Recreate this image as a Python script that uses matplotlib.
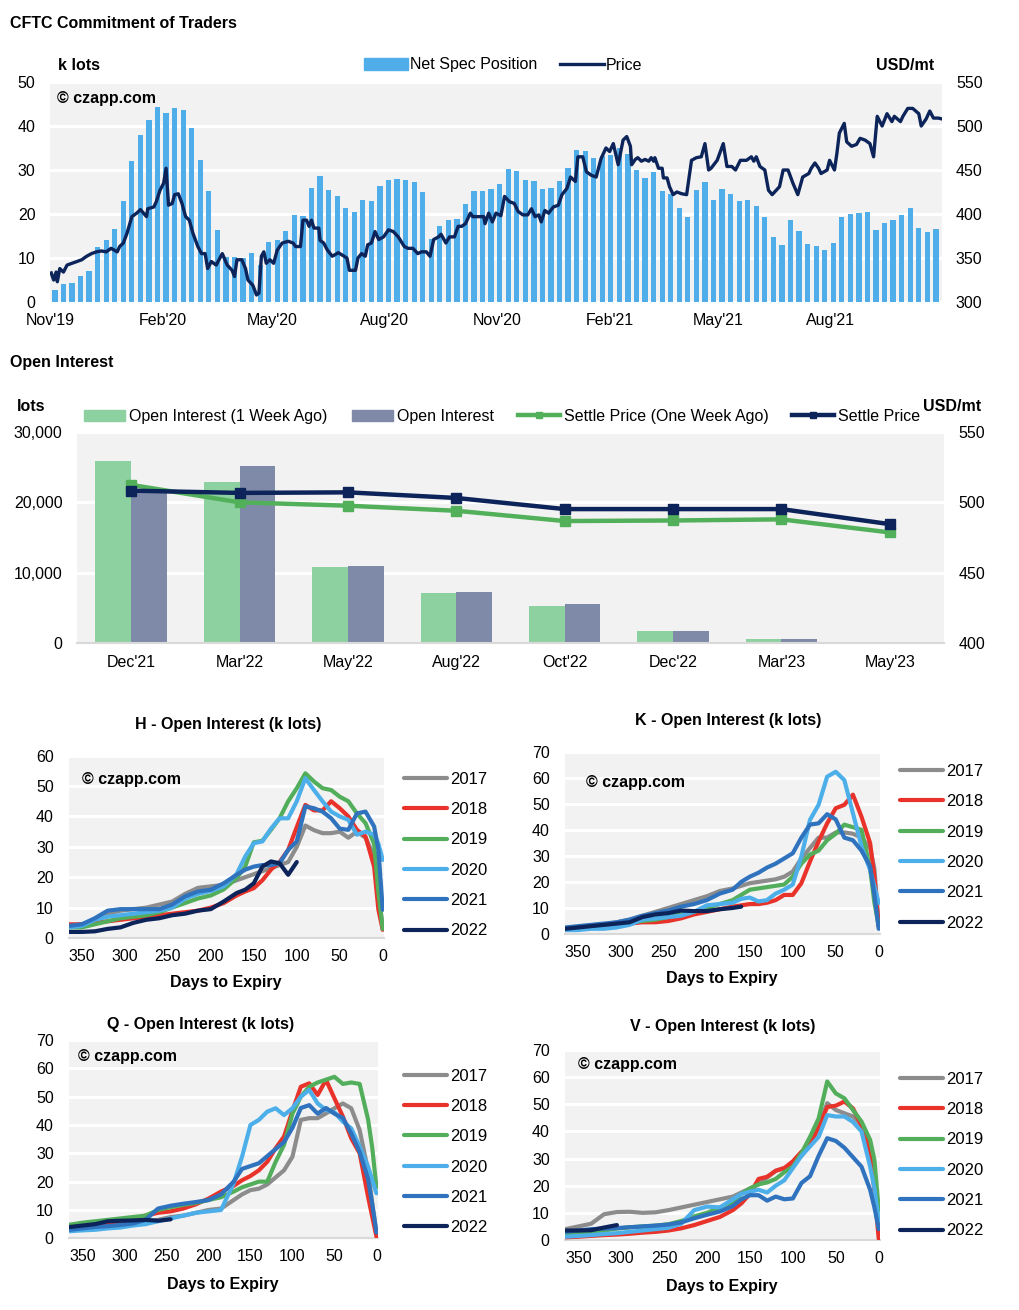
import numpy as np
import pandas as pd
import matplotlib
matplotlib.use("Agg")
import matplotlib.pyplot as plt
import matplotlib.dates as mdates
from matplotlib.ticker import FuncFormatter
from matplotlib.patches import Patch
from matplotlib.lines import Line2D

plt.rcParams['font.family'] = ['Liberation Sans', 'DejaVu Sans']

# ---------------- data: CFTC COT ----------------
cot_start = "2019-11-05"
net_spec = [2.7, 4.1, 4.4, 5.9, 7.0, 12.6, 14.1, 16.6, 23.0, 32.0, 38.0, 41.4, 44.3, 43.0, 44.1, 43.6,
            39.5, 32.3, 25.2, 16.4, 10.3, 10.3, 9.9, 11.1, 8.4, 13.6, 14.1, 16.1, 19.8, 19.5, 25.9, 28.6,
            25.5, 24.1,
            21.4, 20.5, 23.2, 23.0, 26.4, 27.7, 28.0, 27.7, 27.3, 25.0, 14.3, 17.3, 18.6, 18.9, 22.3, 25.2,
            25.2, 25.7, 26.8, 30.2, 29.8, 27.7, 27.5, 25.7, 25.9, 27.5, 30.5, 34.5, 34.3, 32.7, 33.2, 33.4,
            35.0, 33.6,
            30.0, 28.2, 29.5, 25.2, 24.5, 21.4, 19.3, 25.5, 27.3, 23.2, 25.7, 24.5, 22.9, 23.2, 21.8, 19.3,
            14.8, 13.0, 18.6, 16.1, 13.2, 12.7, 11.8, 13.4, 19.3, 20.0, 20.2, 20.5, 16.4, 17.9, 18.6, 19.8,
            21.4, 16.9, 15.8, 16.7]

price_start = "2019-11-01"
price_day = [1, 3, 5, 6, 8, 11, 14, 18, 22, 26, 30, 34, 38, 42, 46, 50, 55, 57, 60, 63, 67, 71, 74, 79,
             80, 85, 87, 90, 93, 95, 97, 100, 102, 105, 108, 111, 114, 117, 121, 124, 127, 129, 132, 136,
             141, 145, 149, 151, 153, 157, 160, 162, 166, 169, 171, 173, 175, 177, 180, 183, 186, 190,
             195, 199, 201, 205, 207, 210, 212, 214, 216, 220, 221, 224, 227, 231,
             236, 243, 245, 250, 252, 255, 258, 260, 263, 266, 269, 273, 277, 281, 285, 290, 293, 297,
             301, 304, 308, 311, 314, 318, 320, 324, 327, 331, 334, 337, 340, 344, 346, 350, 355, 356,
             359, 362, 365, 369, 372, 376, 380, 383, 387, 391, 394, 397, 400, 402, 405, 408, 412, 416,
             419, 423, 426, 430, 432, 436, 439, 443, 447, 451, 455, 458, 461, 465, 469, 472, 475,
             476, 479, 481, 484, 487, 490, 492, 494, 495, 498, 501, 502, 505, 507, 510, 513, 517, 521,
             525, 529, 533, 536, 539, 541, 546, 551, 554, 558, 561, 565, 570, 574, 576, 578, 581, 585,
             588, 591, 593, 597, 600, 604, 608, 612, 616, 621, 623, 626, 629, 631, 636, 638, 642, 644,
             646, 650, 652, 656, 660, 663, 667, 671, 674, 677, 681, 685, 689, 691, 696, 698, 702, 706,
             711, 713, 717, 720, 723, 727, 730]
price = [333, 325, 334, 323, 338, 334, 342, 344, 346, 348, 352, 355, 357, 358, 357, 361, 357, 363, 367,
         378, 397, 401, 405, 397, 406, 408, 414, 427, 435, 452, 410, 412, 422, 423, 412, 397, 393, 378,
         363, 355, 355, 338, 346, 342, 355, 342, 336, 329, 348, 348, 338, 325, 319, 308, 310, 352, 357,
         344, 348, 344, 359, 367, 369, 367, 363, 363, 393, 393, 386, 393, 384, 384, 370, 367, 359, 352,
         356, 350, 336, 336, 350, 355, 352, 365, 367, 380, 371, 374, 382, 380, 374, 363, 361, 361, 355,
         357, 357, 352, 371, 374, 377, 367, 374, 374, 386, 386, 389, 401, 397, 397, 397, 389, 401, 391,
         401, 398, 420, 414, 412, 403, 399, 399, 406, 397, 399, 391, 404, 401, 408, 410, 422, 429, 442,
         437, 465, 465, 448, 444, 442, 463, 475, 471, 480, 456, 484, 488, 477,
         456, 462, 464, 460, 462, 460, 464, 460, 464, 452, 452, 441, 441, 431, 422, 425, 423, 422, 461,
         464, 465, 480, 450, 452, 461, 480, 454, 454, 450, 461, 461, 465, 460, 465, 454, 450, 427, 422,
         425, 431, 450, 450, 435, 422, 442, 446, 452, 458, 452, 446, 450, 461, 450, 469, 492, 503, 482,
         477, 479, 486, 484, 480, 465, 511, 500, 514, 505, 511, 505, 511, 520, 520, 514, 500, 508, 517,
         509, 509, 508]

# ---------------- data: open interest by contract ----------------
contracts = ["Dec'21", "Mar'22", "May'22", "Aug'22", "Oct'22", "Dec'22", "Mar'23", "May'23"]
oi_week_ago = [25900, 22900, 10760, 7050, 5190, 1760, 620, 190]
oi_now = [21800, 25200, 10900, 7190, 5480, 1760, 620, 190]
settle_week_ago = [512.4, 500.0, 497.6, 494.0, 486.7, 487.1, 487.9, 478.6]
settle_now = [508.3, 506.7, 507.1, 503.1, 495.2, 495.2, 495.2, 484.5]

# ---------------- data: open interest vs days to expiry (k lots) ----------------
days = [365, 350, 335, 320, 305, 290, 275, 260, 245, 230, 215, 200, 185, 170, 160, 150,
        140, 130, 120, 110, 100, 90, 80, 70, 60, 50, 40, 30, 20, 10, 5, 0]
years = ["2017", "2018", "2019", "2020", "2021", "2022"]

h_oi = {
    "2017": [4, 4.5, 6, 8, 9, 9.5, 10, 11, 12, 14.5, 16.5, 17, 17.5, 19, 20, 21,
             22, 23, 24, 25, 30, 37, 35.5, 34.5, 34.5, 35, 33, 35, 33, 27, 15, 3],
    "2018": [4.5, 4.5, 5, 5.5, 6, 6.5, 7, 7.5, 8, 8.5, 9, 10, 11.5, 14, 15.3, 16.4,
             19, 22.5, 25, 29, 36.5, 43.8, 42, 42, 45, 42.7, 40, 35.6, 33.4, 23.5, 9.3, 2.7],
    "2019": [3.5, 3.5, 4.5, 5.5, 6.5, 7, 7.5, 8.5, 10, 11.5, 13, 14, 16, 19.7, 23.5, 31.5,
             32, 35.6, 39.4, 45, 49.3, 54.2, 51.5, 49.3, 48.7, 46.5, 45, 41, 37.8, 31, 15, 3],
    "2020": [3.5, 4, 6, 7, 7.5, 8, 8.5, 9, 10, 13, 14.5, 15.5, 17, 21, 26.8, 31.2,
             31.8, 36, 39.4, 39.4, 45, 52.6, 48.7, 45, 41.6, 40, 38.9, 34, 35, 34, 31, 25.7],
    "2021": [4, 4.5, 6.5, 9, 9.5, 9.5, 9.5, 9.5, 11, 13.7, 15.3, 15.9, 18, 20.8, 22.5, 23.5,
             24, 24, 24.6, 29, 31.8, 43.3, 42.7, 41.6, 39.4, 36, 35.6, 41, 41.6, 36.7, 29, 9.3],
    "2022": [2, 2, 2.2, 3, 3.5, 5, 6, 6.5, 7.5, 8, 9, 9.5, 12, 14.8, 15.9, 18,
             23.5, 25.2, 24.6, 20.8, 25],
}
k_oi = {
    "2017": [2, 2.5, 3, 3.5, 4.5, 5.5, 7, 8.5, 10, 11.5, 13, 14.5, 16.5, 17.5, 18.5, 19.5,
             20, 20.5, 21, 22, 24, 29, 33, 37, 37, 39, 39, 38.5, 37, 33, 25, 3],
    "2018": [1.5, 2, 2.5, 3, 3.5, 4, 4.5, 4.5, 5, 6, 7.5, 8.5, 9.5, 10.5, 11, 11.5,
             11.5, 12, 13, 15, 15, 19.5, 27.8, 35.5, 42.5, 48.3, 49.6, 53.5, 45, 34.9, 22, 3],
    "2019": [2, 2.5, 3, 3.5, 4, 4.5, 5, 5.5, 6.5, 7.5, 8.5, 10, 11.5, 13, 15, 17,
             17.5, 18, 18.5, 19, 22, 27, 30.5, 32, 36, 38.5, 42, 41, 40, 25, 12, 3],
    "2020": [1.5, 1.5, 2, 2, 2.5, 3.5, 5.5, 6, 6.5, 7, 8.5, 11, 11.5, 12, 13.5, 14,
             12.5, 13, 15.5, 17, 19, 29.8, 43.8, 49.6, 60.4, 62.3, 59.1, 46.4, 33.6, 24.6, 18.3, 11.9],
    "2021": [2.5, 3, 3.5, 4, 4.5, 5.5, 7, 8, 9, 10.5, 11.5, 13, 15.5, 17, 20, 22,
             23.5, 25.5, 27, 29, 31, 37, 42, 42.5, 46, 44, 37, 36, 32, 26, 15, 2],
    "2022": [2, 2.5, 3, 3.5, 4, 4.5, 6.5, 7.5, 8, 9, 8.8, 8.8, 9.5, 10, 10.5],
}
q_oi = {
    "2017": [3.5, 4, 4.5, 4.8, 5, 5.5, 6, 6.5, 7.5, 8, 9, 10, 10.5, 13.5, 15.5, 17,
             17.5, 19, 21.5, 24, 28.8, 41.8, 42.4, 42.4, 44.1, 45.9, 47.6, 45.9, 38.2, 24, 12.4, 1.8],
    "2018": [4.5, 5, 5.5, 5.5, 5.8, 6.5, 8, 9, 9.5, 10.5, 12, 14, 16.5, 18.5, 20.5, 22,
             24, 27, 31.8, 35.9, 45, 53.5, 54.7, 50.6, 55.9, 49.4, 43, 35.3, 30, 14.7, 7.6, 0.6],
    "2019": [4.8, 5.5, 6, 6.5, 7, 7.5, 8, 10, 11, 11.8, 12.5, 13.5, 14.5, 16.5, 18, 19,
             20, 20, 27, 33, 44, 50, 53.5, 55, 56, 57, 54.5, 55, 54.5, 42, 32, 18],
    "2020": [2.5, 2.8, 3, 3.5, 3.8, 4.5, 5, 6, 7, 8, 9, 9.5, 10, 19.4, 28.8, 40,
             41.8, 44.7, 45.9, 43.5, 45.9, 50, 52.4, 47.6, 45.3, 44.5, 41.2, 38.8, 32.4, 25.3, 20.6, 15.9],
    "2021": [3, 3.5, 4, 4.3, 4.7, 5.2, 6.5, 10.5, 11.5, 12.2, 12.8, 13.5, 15.5, 20, 24.5, 25.5,
             26.5, 29, 31.5, 34, 39, 46, 47, 44, 46, 44, 42.5, 37, 30.5, 21, 12, 2],
    "2022": [4, 4.5, 5, 6, 6.2, 6.3, 6.5, 6.2, 6.7],
}
v_oi = {
    "2017": [4, 5, 6, 9.5, 10.3, 10.4, 10, 10.2, 11, 12, 13, 14, 15, 16, 17.5, 19,
             20.5, 23, 25.5, 26.5, 27.5, 31, 35.5, 42, 50.4, 47.9, 46.7, 45.5, 42.4, 33.2, 23.3, 3.7],
    "2018": [1, 1.2, 1.5, 1.8, 2, 2.3, 2.7, 3, 3.5, 4.3, 5.5, 7, 8.5, 11, 13.5, 17,
             22.5, 23.3, 25.5, 26.5, 29, 32.5, 35, 41.5, 49, 49.5, 51, 48.5, 42, 33, 18, 0.5],
    "2019": [2, 2.5, 3, 3.5, 4.2, 4.7, 5, 5.3, 5.8, 7, 8.7, 10, 12, 14, 17, 19,
             20.5, 21.2, 22.5, 25, 27, 32, 38, 44.8, 58.4, 54, 52.2, 47.9, 43.6, 36.9, 29.5, 11],
    "2020": [1.2, 1.5, 1.8, 2.2, 2.5, 3, 3.5, 4, 4.5, 6, 11, 12.3, 12, 15, 17, 17.8,
             18.5, 17.5, 20, 22, 26.5, 31, 34.5, 38, 46, 45.5, 45.5, 43.5, 40, 27, 19, 7],
    "2021": [3, 3.5, 4, 4.2, 4.4, 4.7, 5, 5.3, 5.7, 6.5, 8, 9.3, 10.5, 12.5, 15, 16.5,
             16.5, 14.5, 16, 15, 15.3, 21, 23.5, 31, 37.5, 36.5, 34, 30.5, 27, 18.5, 12, 4],
    "2022": [3.5, 3.5, 3.6, 4.6, 5.5],
}

# ---------------- styling ----------------
BG = "#F2F2F2"
BAR_BLUE = "#4FADEA"
NAVY = "#0C2459"
GREEN_BAR = "#8ED1A1"
SLATE = "#7F8AA8"
GREEN = "#52B05A"
YEAR_COLORS = {"2017": "#8C8C8C", "2018": "#E8322A", "2019": "#52AE5A",
               "2020": "#4DAFEA", "2021": "#2F72BD", "2022": "#0C2459"}
FS = 11.5

W, H = 1020, 1310
fig = plt.figure(figsize=(W / 100, H / 100), dpi=100)


def box(l, t, r, b):
    return [l / W, 1 - b / H, (r - l) / W, (b - t) / H]


def ftext(x, y, s, **kw):
    kw.setdefault("fontsize", FS)
    kw.setdefault("va", "center")
    fig.text(x / W, 1 - y / H, s, **kw)


def clean(ax):
    for s in ax.spines.values():
        s.set_visible(False)


# ================= CFTC Commitment of Traders =================
ftext(10, 23, "CFTC Commitment of Traders", fontweight="bold")
ax1 = fig.add_axes(box(50, 82, 942, 302))
ax1.set_facecolor(BG)
cot_dates = pd.date_range(cot_start, periods=len(net_spec), freq="7D")
ax1.bar(cot_dates, net_spec, width=4.3, color=BAR_BLUE, zorder=2)
ax1.set_ylim(0, 50)
ax1.set_yticks(range(0, 51, 10))
ax1.grid(axis="y", color="white", lw=2.2, zorder=1)
ax1.set_axisbelow(True)
ax1.set_xlim(pd.Timestamp("2019-11-01"), pd.Timestamp("2021-10-31"))
ax1.xaxis.set_major_locator(mdates.MonthLocator(bymonth=[2, 5, 8, 11]))
ax1.xaxis.set_major_formatter(mdates.DateFormatter("%b'%y"))
ax1.tick_params(axis="y", length=0, labelsize=FS, pad=10.5)
ax1.tick_params(axis="x", length=0, labelsize=FS, pad=8)
clean(ax1)

ax2 = ax1.twinx()
price_dates = pd.Timestamp(price_start) + pd.to_timedelta(price_day, unit="D")
ax2.plot(price_dates, price, color=NAVY, lw=2.4, zorder=3)
ax2.set_ylim(300, 550)
ax2.set_yticks(range(300, 551, 50))
ax2.tick_params(axis="y", length=0, labelsize=FS, pad=10)
clean(ax2)

ax1.text(0.008, 0.923, "\u00a9 czapp.com", transform=ax1.transAxes, fontsize=FS,
         fontweight="bold", va="center", ha="left", zorder=5)
ftext(58, 65, "k lots", fontweight="bold")
ftext(934, 65, "USD/mt", fontweight="bold", ha="right")
fig.legend([Patch(color=BAR_BLUE), Line2D([], [], color=NAVY, lw=2.4)],
           ["Net Spec Position", "Price"], loc="center", ncol=2, frameon=False,
           bbox_to_anchor=(503 / W, 1 - 65 / H), fontsize=FS, handlelength=2.8,
           handleheight=0.8, handletextpad=0.1, columnspacing=1.4)

# ================= Open Interest by contract =================
ftext(10, 362, "Open Interest", fontweight="bold")
ax3 = fig.add_axes(box(77, 432, 944, 643))
ax3.set_facecolor(BG)
x = np.arange(len(contracts))
ax3.bar(x - 0.165, oi_week_ago, 0.33, color=GREEN_BAR, zorder=2)
ax3.bar(x + 0.165, oi_now, 0.33, color=SLATE, zorder=2)
ax3.set_xlim(-0.5, len(contracts) - 0.5)
ax3.set_ylim(0, 30000)
ax3.set_yticks(range(0, 30001, 10000))
ax3.yaxis.set_major_formatter(FuncFormatter(lambda v, p: f"{int(v):,}"))
ax3.set_xticks(x)
ax3.set_xticklabels(contracts)
ax3.grid(axis="y", color="white", lw=2.2, zorder=1)
ax3.set_axisbelow(True)
ax3.tick_params(axis="y", length=0, labelsize=FS, pad=10.5)
ax3.tick_params(axis="x", length=0, labelsize=FS, pad=8.5)
clean(ax3)
ax3.spines["bottom"].set_visible(True)
ax3.spines["bottom"].set_color("#D9D9D9")
ax3.spines["bottom"].set_linewidth(1.5)

ax4 = ax3.twinx()
ax4.plot(x, settle_week_ago, color=GREEN, lw=3.2, marker="s", ms=6.5, zorder=3)
ax4.plot(x, settle_now, color=NAVY, lw=3.2, marker="s", ms=6.5, zorder=4)
ax4.set_ylim(400, 550)
ax4.set_yticks(range(400, 551, 50))
ax4.tick_params(axis="y", length=0, labelsize=FS, pad=10.5)
clean(ax4)

ftext(17, 406, "lots", fontweight="bold")
ftext(981, 406, "USD/mt", fontweight="bold", ha="right")
fig.legend([Patch(color=GREEN_BAR), Patch(color=SLATE),
            Line2D([], [], color=GREEN, lw=3.2, marker="s", ms=5),
            Line2D([], [], color=NAVY, lw=3.2, marker="s", ms=5)],
           ["Open Interest (1 Week Ago)", "Open Interest",
            "Settle Price (One Week Ago)", "Settle Price"],
           loc="center", ncol=4, frameon=False, bbox_to_anchor=(502 / W, 1 - 416.5 / H),
           fontsize=FS, handlelength=2.6, handleheight=0.75, handletextpad=0.25,
           columnspacing=1.5)


# ================= Open interest vs days to expiry =================
def expiry_panel(rect, data, ymax, xmax, title, title_xy, xlabel_xy, wm_xy, leg_xy):
    ax = fig.add_axes(box(*rect))
    ax.set_facecolor(BG)
    for yr in years:
        vals = data[yr]
        ax.plot(days[:len(vals)], vals, color=YEAR_COLORS[yr], lw=3.0, label=yr,
                solid_capstyle="round", zorder=3)
    ax.set_xlim(xmax, -1.5)
    ax.set_ylim(0, ymax)
    ax.set_yticks(range(0, ymax + 1, 10))
    ax.set_xticks([350, 300, 250, 200, 150, 100, 50, 0])
    ax.grid(axis="y", color="white", lw=2.2, zorder=1)
    ax.set_axisbelow(True)
    ax.tick_params(axis="y", length=0, labelsize=FS, pad=11)
    ax.tick_params(axis="x", length=0, labelsize=FS, pad=8)
    clean(ax)
    ax.spines["bottom"].set_visible(True)
    ax.spines["bottom"].set_color("#D9D9D9")
    ax.spines["bottom"].set_linewidth(1.5)
    ax.text(wm_xy[0], wm_xy[1], "\u00a9 czapp.com", transform=ax.transAxes, fontsize=FS,
            fontweight="bold", va="center", ha="left", zorder=5)
    ftext(title_xy[0], title_xy[1], title, fontweight="bold", ha="center")
    ftext(xlabel_xy[0], xlabel_xy[1], "Days to Expiry", fontweight="bold", ha="center")
    ax.legend(loc="center left", bbox_to_anchor=leg_xy, frameon=False, fontsize=FS + 0.5,
              handlelength=2.6, handletextpad=0.15, labelspacing=0.92,
              borderpad=0, borderaxespad=0)
    return ax


expiry_panel((69, 755.7, 384, 938), h_oi, 60, 365, "H - Open Interest (k lots)",
             (228, 724), (226, 983), (0.041, 0.872), (1.063, 0.455))
expiry_panel((565, 751.7, 880, 934), k_oi, 70, 365, "K - Open Interest (k lots)",
             (728, 720.5), (722, 979), (0.067, 0.83), (1.063, 0.476))
expiry_panel((69, 1040, 377.7, 1238.3), q_oi, 70, 366, "Q - Open Interest (k lots)",
             (201, 1025), (223, 1284), (0.029, 0.916), (1.085, 0.436))
expiry_panel((565, 1050, 880, 1240), v_oi, 70, 365.5, "V - Open Interest (k lots)",
             (723, 1026.5), (722, 1286), (0.041, 0.925), (1.063, 0.447))

fig.savefig("out.png", dpi=100)
